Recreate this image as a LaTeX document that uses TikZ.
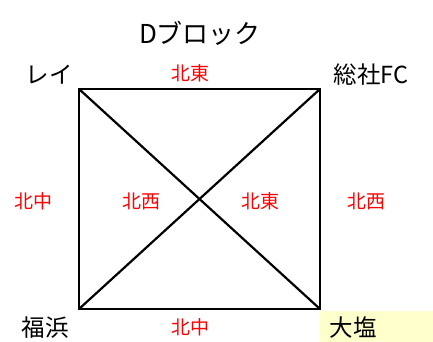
\documentclass[tikz,border=0pt]{standalone}
\usepackage{fontspec}
\setmainfont{Noto Sans CJK JP}
\definecolor{hl}{HTML}{FFFFCC}
\begin{document}
\begin{tikzpicture}[x=1pt,y=-1pt,
  team/.style={font=\fontsize{23.5}{23.5}\selectfont, inner sep=0pt},
  rel/.style={font=\fontsize{19}{19}\selectfont, text=red, inner sep=0pt},
  edge/.style={line width=2.8pt},
  diag/.style={line width=2.2pt}]
\useasboundingbox (0,0) rectangle (433,342);
\fill[hl] (320,311) rectangle (433,342);
\coordinate (tl) at (79,89);
\coordinate (tr) at (320,89);
\coordinate (bl) at (79,309);
\coordinate (br) at (320,309);
\draw[edge] (tl) -- (tr) -- (br) -- (bl) -- cycle;
\draw[diag] (tl) -- (br);
\draw[diag] (tr) -- (bl);
\node[font=\fontsize{26}{26}\selectfont, inner sep=0pt] (title) at (200,33) {Dブロック};
\node[team] (rei) at (49,75) {レイ};
\node[team] (soja) at (371,75) {総社FC};
\node[team] (fuku) at (45,328) {福浜};
\node[team] (oshio) at (353,328) {大塩};
\node[rel] (r1) at (190,73) {北東};
\node[rel] (r2) at (190,327) {北中};
\node[rel] (r3) at (33,201) {北中};
\node[rel] (r4) at (141,201) {北西};
\node[rel] (r5) at (260,201) {北東};
\node[rel] (r6) at (366,201) {北西};
\end{tikzpicture}
\end{document}
